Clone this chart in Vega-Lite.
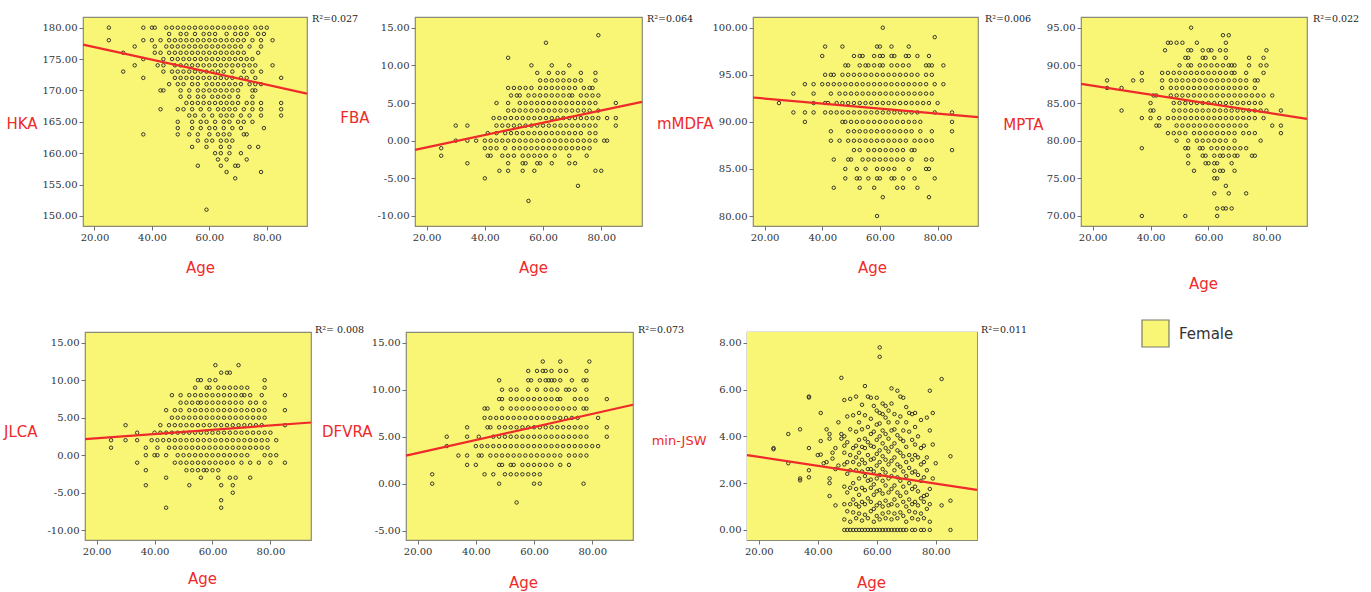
{
"$schema": "https://vega.github.io/schema/vega-lite/v6.json",
"autosize": {"type": "none"},
"padding": {"left": 83, "top": 17, "right": 1288, "bottom": 575},
"background": "white",
"spacing": 26,
"resolve": {"scale": {"fill": "independent"}, "legend": {"fill": "independent"}},
"datasets": {
"d1": [{"a":25,"v":180},{"a":37,"v":180},{"a":40,"v":180},{"a":41,"v":180},{"a":45,"v":180},{"a":47,"v":180},{"a":49,"v":180},{"a":51,"v":180},{"a":53,"v":180},{"a":55,"v":180},{"a":57,"v":180},{"a":59,"v":180},{"a":61,"v":180},{"a":63,"v":180},{"a":65,"v":180},{"a":67,"v":180},{"a":69,"v":180},{"a":71,"v":180},{"a":73,"v":180},{"a":76,"v":180},{"a":78,"v":180},{"a":80,"v":180},
{"a":46,"v":179},{"a":50,"v":179},{"a":52,"v":179},{"a":55,"v":179},{"a":58,"v":179},{"a":60,"v":179},{"a":62,"v":179},{"a":66,"v":179},{"a":69,"v":179},{"a":71,"v":179},{"a":73,"v":179},{"a":77,"v":179},{"a":79,"v":179},
{"a":25,"v":178},{"a":37,"v":178},{"a":40,"v":178},{"a":43,"v":178},{"a":46,"v":178},{"a":48,"v":178},{"a":50,"v":178},{"a":52,"v":178},{"a":54,"v":178},{"a":56,"v":178},{"a":58,"v":178},{"a":60,"v":178},{"a":62,"v":178},{"a":64,"v":178},{"a":66,"v":178},{"a":68,"v":178},{"a":70,"v":178},{"a":72,"v":178},{"a":75,"v":178},{"a":78,"v":178},{"a":82,"v":178},
{"a":34,"v":177},{"a":41,"v":177},{"a":45,"v":177},{"a":47,"v":177},{"a":49,"v":177},{"a":51,"v":177},{"a":53,"v":177},{"a":55,"v":177},{"a":57,"v":177},{"a":59,"v":177},{"a":61,"v":177},{"a":63,"v":177},{"a":65,"v":177},{"a":67,"v":177},{"a":69,"v":177},{"a":71,"v":177},{"a":74,"v":177},{"a":78,"v":177},
{"a":30,"v":176},{"a":41,"v":176},{"a":43,"v":176},{"a":46,"v":176},{"a":48,"v":176},{"a":50,"v":176},{"a":52,"v":176},{"a":54,"v":176},{"a":56,"v":176},{"a":58,"v":176},{"a":60,"v":176},{"a":62,"v":176},{"a":64,"v":176},{"a":66,"v":176},{"a":68,"v":176},{"a":70,"v":176},{"a":72,"v":176},{"a":77,"v":176},
{"a":37,"v":175},{"a":44,"v":175},{"a":47,"v":175},{"a":49,"v":175},{"a":51,"v":175},{"a":53,"v":175},{"a":55,"v":175},{"a":57,"v":175},{"a":59,"v":175},{"a":61,"v":175},{"a":63,"v":175},{"a":65,"v":175},{"a":67,"v":175},{"a":69,"v":175},{"a":71,"v":175},{"a":73,"v":175},{"a":75,"v":175},
{"a":34,"v":174},{"a":42,"v":174},{"a":44,"v":174},{"a":48,"v":174},{"a":50,"v":174},{"a":52,"v":174},{"a":54,"v":174},{"a":56,"v":174},{"a":58,"v":174},{"a":60,"v":174},{"a":62,"v":174},{"a":64,"v":174},{"a":66,"v":174},{"a":68,"v":174},{"a":70,"v":174},{"a":72,"v":174},{"a":74,"v":174},{"a":76,"v":174},{"a":82,"v":174},
{"a":30,"v":173},{"a":44,"v":173},{"a":47,"v":173},{"a":49,"v":173},{"a":51,"v":173},{"a":53,"v":173},{"a":55,"v":173},{"a":57,"v":173},{"a":59,"v":173},{"a":61,"v":173},{"a":63,"v":173},{"a":65,"v":173},{"a":68,"v":173},{"a":72,"v":173},{"a":75,"v":173},{"a":78,"v":173},
{"a":37,"v":172},{"a":48,"v":172},{"a":50,"v":172},{"a":52,"v":172},{"a":54,"v":172},{"a":56,"v":172},{"a":58,"v":172},{"a":60,"v":172},{"a":62,"v":172},{"a":64,"v":172},{"a":66,"v":172},{"a":68,"v":172},{"a":71,"v":172},{"a":73,"v":172},{"a":76,"v":172},{"a":85,"v":172},
{"a":46,"v":171},{"a":49,"v":171},{"a":51,"v":171},{"a":54,"v":171},{"a":56,"v":171},{"a":59,"v":171},{"a":61,"v":171},{"a":63,"v":171},{"a":65,"v":171},{"a":67,"v":171},{"a":69,"v":171},{"a":71,"v":171},{"a":74,"v":171},{"a":76,"v":171},{"a":78,"v":171},
{"a":43,"v":170},{"a":44,"v":170},{"a":50,"v":170},{"a":53,"v":170},{"a":56,"v":170},{"a":58,"v":170},{"a":60,"v":170},{"a":62,"v":170},{"a":64,"v":170},{"a":66,"v":170},{"a":68,"v":170},{"a":70,"v":170},{"a":75,"v":170},{"a":76,"v":170},
{"a":50,"v":169},{"a":53,"v":169},{"a":56,"v":169},{"a":58,"v":169},{"a":61,"v":169},{"a":63,"v":169},{"a":65,"v":169},{"a":67,"v":169},{"a":70,"v":169},{"a":75,"v":169},
{"a":52,"v":168},{"a":54,"v":168},{"a":56,"v":168},{"a":58,"v":168},{"a":60,"v":168},{"a":62,"v":168},{"a":64,"v":168},{"a":66,"v":168},{"a":68,"v":168},{"a":70,"v":168},{"a":73,"v":168},{"a":75,"v":168},{"a":78,"v":168},{"a":85,"v":168},
{"a":43,"v":167},{"a":49,"v":167},{"a":51,"v":167},{"a":54,"v":167},{"a":57,"v":167},{"a":60,"v":167},{"a":63,"v":167},{"a":65,"v":167},{"a":67,"v":167},{"a":69,"v":167},{"a":72,"v":167},{"a":75,"v":167},{"a":78,"v":167},{"a":85,"v":167},
{"a":53,"v":166},{"a":55,"v":166},{"a":58,"v":166},{"a":61,"v":166},{"a":64,"v":166},{"a":66,"v":166},{"a":68,"v":166},{"a":71,"v":166},{"a":74,"v":166},{"a":78,"v":166},{"a":85,"v":166},
{"a":49,"v":165},{"a":54,"v":165},{"a":57,"v":165},{"a":59,"v":165},{"a":62,"v":165},{"a":65,"v":165},{"a":67,"v":165},{"a":70,"v":165},{"a":72,"v":165},{"a":75,"v":165},
{"a":49,"v":164},{"a":54,"v":164},{"a":57,"v":164},{"a":60,"v":164},{"a":62,"v":164},{"a":65,"v":164},{"a":68,"v":164},{"a":71,"v":164},{"a":79,"v":164},
{"a":37,"v":163},{"a":49,"v":163},{"a":53,"v":163},{"a":56,"v":163},{"a":60,"v":163},{"a":63,"v":163},{"a":65,"v":163},{"a":67,"v":163},{"a":72,"v":163},{"a":73,"v":163},
{"a":56,"v":162},{"a":59,"v":162},{"a":61,"v":162},{"a":64,"v":162},{"a":66,"v":162},{"a":68,"v":162},
{"a":54,"v":161},{"a":59,"v":161},{"a":64,"v":161},{"a":67,"v":161},{"a":74,"v":161},{"a":77,"v":161},
{"a":62,"v":160},{"a":64,"v":160},{"a":67,"v":160},{"a":71,"v":160},
{"a":63,"v":159},{"a":66,"v":159},{"a":73,"v":159},
{"a":56,"v":158},{"a":64,"v":158},{"a":69,"v":158},{"a":70,"v":158},
{"a":66,"v":157},{"a":78,"v":157},{"a":69,"v":156},{"a":59,"v":151}],
"r1": [{"a":16,"v":177.3},{"a":94,"v":169.5}],
"d2": [{"a":79,"v":14},{"a":61,"v":13},{"a":48,"v":11},
{"a":56,"v":10},{"a":63,"v":10},{"a":69,"v":10},
{"a":58,"v":9},{"a":62,"v":9},{"a":65,"v":9},{"a":67,"v":9},{"a":73,"v":9},{"a":78,"v":9},
{"a":59,"v":8},{"a":61,"v":8},{"a":63,"v":8},{"a":65,"v":8},{"a":67,"v":8},{"a":69,"v":8},{"a":71,"v":8},{"a":73,"v":8},{"a":78,"v":8},
{"a":48,"v":7},{"a":50,"v":7},{"a":52,"v":7},{"a":54,"v":7},{"a":56,"v":7},{"a":59,"v":7},{"a":61,"v":7},{"a":63,"v":7},{"a":65,"v":7},{"a":67,"v":7},{"a":69,"v":7},{"a":71,"v":7},{"a":74,"v":7},{"a":76,"v":7},{"a":77,"v":7},
{"a":49,"v":6},{"a":51,"v":6},{"a":52,"v":6},{"a":55,"v":6},{"a":57,"v":6},{"a":59,"v":6},{"a":61,"v":6},{"a":63,"v":6},{"a":65,"v":6},{"a":67,"v":6},{"a":69,"v":6},{"a":70,"v":6},{"a":73,"v":6},{"a":75,"v":6},{"a":77,"v":6},{"a":79,"v":6},
{"a":44,"v":5},{"a":48,"v":5},{"a":52,"v":5},{"a":54,"v":5},{"a":56,"v":5},{"a":58,"v":5},{"a":60,"v":5},{"a":62,"v":5},{"a":64,"v":5},{"a":66,"v":5},{"a":68,"v":5},{"a":70,"v":5},{"a":72,"v":5},{"a":74,"v":5},{"a":76,"v":5},{"a":78,"v":5},{"a":85,"v":5},
{"a":48,"v":4},{"a":50,"v":4},{"a":52,"v":4},{"a":54,"v":4},{"a":56,"v":4},{"a":58,"v":4},{"a":60,"v":4},{"a":62,"v":4},{"a":64,"v":4},{"a":66,"v":4},{"a":68,"v":4},{"a":70,"v":4},{"a":72,"v":4},{"a":74,"v":4},{"a":76,"v":4},{"a":79,"v":4},
{"a":43,"v":3},{"a":45,"v":3},{"a":47,"v":3},{"a":49,"v":3},{"a":51,"v":3},{"a":53,"v":3},{"a":55,"v":3},{"a":57,"v":3},{"a":59,"v":3},{"a":61,"v":3},{"a":63,"v":3},{"a":65,"v":3},{"a":67,"v":3},{"a":69,"v":3},{"a":71,"v":3},{"a":73,"v":3},{"a":75,"v":3},{"a":77,"v":3},{"a":79,"v":3},{"a":82,"v":3},{"a":85,"v":3},
{"a":30,"v":2},{"a":34,"v":2},{"a":44,"v":2},{"a":46,"v":2},{"a":48,"v":2},{"a":50,"v":2},{"a":52,"v":2},{"a":54,"v":2},{"a":56,"v":2},{"a":58,"v":2},{"a":60,"v":2},{"a":62,"v":2},{"a":64,"v":2},{"a":66,"v":2},{"a":68,"v":2},{"a":70,"v":2},{"a":72,"v":2},{"a":74,"v":2},{"a":76,"v":2},{"a":78,"v":2},{"a":85,"v":2},
{"a":41,"v":1},{"a":44,"v":1},{"a":47,"v":1},{"a":49,"v":1},{"a":51,"v":1},{"a":53,"v":1},{"a":55,"v":1},{"a":57,"v":1},{"a":59,"v":1},{"a":61,"v":1},{"a":63,"v":1},{"a":65,"v":1},{"a":67,"v":1},{"a":69,"v":1},{"a":71,"v":1},{"a":73,"v":1},{"a":76,"v":1},{"a":78,"v":1},
{"a":30,"v":0},{"a":34,"v":0},{"a":37,"v":0},{"a":40,"v":0},{"a":42,"v":0},{"a":44,"v":0},{"a":46,"v":0},{"a":48,"v":0},{"a":50,"v":0},{"a":52,"v":0},{"a":54,"v":0},{"a":56,"v":0},{"a":58,"v":0},{"a":60,"v":0},{"a":62,"v":0},{"a":64,"v":0},{"a":66,"v":0},{"a":68,"v":0},{"a":70,"v":0},{"a":72,"v":0},{"a":74,"v":0},{"a":76,"v":0},{"a":78,"v":0},{"a":81,"v":0},{"a":82,"v":0},
{"a":25,"v":-1},{"a":40,"v":-1},{"a":42,"v":-1},{"a":44,"v":-1},{"a":47,"v":-1},{"a":50,"v":-1},{"a":52,"v":-1},{"a":54,"v":-1},{"a":56,"v":-1},{"a":58,"v":-1},{"a":60,"v":-1},{"a":62,"v":-1},{"a":64,"v":-1},{"a":66,"v":-1},{"a":68,"v":-1},{"a":70,"v":-1},{"a":72,"v":-1},{"a":74,"v":-1},{"a":76,"v":-1},
{"a":25,"v":-2},{"a":41,"v":-2},{"a":42,"v":-2},{"a":46,"v":-2},{"a":48,"v":-2},{"a":50,"v":-2},{"a":53,"v":-2},{"a":55,"v":-2},{"a":57,"v":-2},{"a":59,"v":-2},{"a":61,"v":-2},{"a":64,"v":-2},{"a":69,"v":-2},{"a":75,"v":-2},
{"a":34,"v":-3},{"a":48,"v":-3},{"a":53,"v":-3},{"a":54,"v":-3},{"a":58,"v":-3},{"a":59,"v":-3},{"a":63,"v":-3},{"a":69,"v":-3},{"a":71,"v":-3},
{"a":45,"v":-4},{"a":48,"v":-4},{"a":53,"v":-4},{"a":57,"v":-4},{"a":78,"v":-4},{"a":80,"v":-4},
{"a":40,"v":-5},{"a":72,"v":-6},{"a":55,"v":-8}],
"r2": [{"a":16,"v":-1.22},{"a":94,"v":5.16}],
"d3": [{"a":61,"v":100},{"a":79,"v":99},
{"a":41,"v":98},{"a":47,"v":98},{"a":59,"v":98},{"a":60,"v":98},{"a":64,"v":98},{"a":70,"v":98},
{"a":40,"v":97},{"a":51,"v":97},{"a":53,"v":97},{"a":54,"v":97},{"a":58,"v":97},{"a":60,"v":97},{"a":61,"v":97},{"a":64,"v":97},{"a":65,"v":97},{"a":69,"v":97},{"a":70,"v":97},{"a":73,"v":97},{"a":77,"v":97},
{"a":48,"v":96},{"a":49,"v":96},{"a":53,"v":96},{"a":55,"v":96},{"a":56,"v":96},{"a":58,"v":96},{"a":60,"v":96},{"a":61,"v":96},{"a":64,"v":96},{"a":66,"v":96},{"a":68,"v":96},{"a":70,"v":96},{"a":76,"v":96},{"a":77,"v":96},{"a":78,"v":96},{"a":82,"v":96},
{"a":41,"v":95},{"a":43,"v":95},{"a":44,"v":95},{"a":47,"v":95},{"a":49,"v":95},{"a":51,"v":95},{"a":53,"v":95},{"a":55,"v":95},{"a":57,"v":95},{"a":59,"v":95},{"a":61,"v":95},{"a":63,"v":95},{"a":65,"v":95},{"a":67,"v":95},{"a":69,"v":95},{"a":71,"v":95},{"a":73,"v":95},{"a":76,"v":95},{"a":78,"v":95},
{"a":34,"v":94},{"a":37,"v":94},{"a":40,"v":94},{"a":42,"v":94},{"a":44,"v":94},{"a":46,"v":94},{"a":48,"v":94},{"a":50,"v":94},{"a":52,"v":94},{"a":54,"v":94},{"a":56,"v":94},{"a":58,"v":94},{"a":60,"v":94},{"a":62,"v":94},{"a":64,"v":94},{"a":66,"v":94},{"a":68,"v":94},{"a":70,"v":94},{"a":72,"v":94},{"a":74,"v":94},{"a":76,"v":94},{"a":79,"v":94},{"a":82,"v":94},
{"a":30,"v":93},{"a":37,"v":93},{"a":43,"v":93},{"a":46,"v":93},{"a":48,"v":93},{"a":50,"v":93},{"a":52,"v":93},{"a":54,"v":93},{"a":56,"v":93},{"a":58,"v":93},{"a":60,"v":93},{"a":62,"v":93},{"a":64,"v":93},{"a":66,"v":93},{"a":68,"v":93},{"a":70,"v":93},{"a":72,"v":93},{"a":74,"v":93},{"a":76,"v":93},{"a":78,"v":93},
{"a":25,"v":92},{"a":37,"v":92},{"a":41,"v":92},{"a":42,"v":92},{"a":45,"v":92},{"a":47,"v":92},{"a":49,"v":92},{"a":51,"v":92},{"a":53,"v":92},{"a":55,"v":92},{"a":57,"v":92},{"a":59,"v":92},{"a":61,"v":92},{"a":63,"v":92},{"a":65,"v":92},{"a":67,"v":92},{"a":69,"v":92},{"a":71,"v":92},{"a":73,"v":92},{"a":75,"v":92},{"a":77,"v":92},{"a":80,"v":92},
{"a":30,"v":91},{"a":34,"v":91},{"a":37,"v":91},{"a":41,"v":91},{"a":43,"v":91},{"a":45,"v":91},{"a":47,"v":91},{"a":49,"v":91},{"a":51,"v":91},{"a":53,"v":91},{"a":55,"v":91},{"a":57,"v":91},{"a":59,"v":91},{"a":61,"v":91},{"a":63,"v":91},{"a":65,"v":91},{"a":67,"v":91},{"a":69,"v":91},{"a":71,"v":91},{"a":73,"v":91},{"a":79,"v":91},{"a":85,"v":91},
{"a":34,"v":90},{"a":47,"v":90},{"a":48,"v":90},{"a":50,"v":90},{"a":52,"v":90},{"a":54,"v":90},{"a":56,"v":90},{"a":58,"v":90},{"a":60,"v":90},{"a":62,"v":90},{"a":64,"v":90},{"a":66,"v":90},{"a":68,"v":90},{"a":70,"v":90},{"a":72,"v":90},{"a":74,"v":90},{"a":85,"v":90},
{"a":43,"v":89},{"a":49,"v":89},{"a":51,"v":89},{"a":53,"v":89},{"a":55,"v":89},{"a":57,"v":89},{"a":59,"v":89},{"a":61,"v":89},{"a":63,"v":89},{"a":65,"v":89},{"a":67,"v":89},{"a":69,"v":89},{"a":71,"v":89},{"a":74,"v":89},{"a":78,"v":89},{"a":85,"v":89},
{"a":43,"v":88},{"a":46,"v":88},{"a":49,"v":88},{"a":51,"v":88},{"a":53,"v":88},{"a":55,"v":88},{"a":57,"v":88},{"a":59,"v":88},{"a":61,"v":88},{"a":63,"v":88},{"a":65,"v":88},{"a":67,"v":88},{"a":69,"v":88},{"a":72,"v":88},{"a":74,"v":88},{"a":76,"v":88},{"a":78,"v":88},
{"a":51,"v":87},{"a":53,"v":87},{"a":56,"v":87},{"a":58,"v":87},{"a":60,"v":87},{"a":62,"v":87},{"a":64,"v":87},{"a":66,"v":87},{"a":68,"v":87},{"a":71,"v":87},{"a":72,"v":87},{"a":85,"v":87},
{"a":44,"v":86},{"a":49,"v":86},{"a":50,"v":86},{"a":54,"v":86},{"a":56,"v":86},{"a":58,"v":86},{"a":60,"v":86},{"a":62,"v":86},{"a":64,"v":86},{"a":66,"v":86},{"a":68,"v":86},{"a":71,"v":86},{"a":76,"v":86},{"a":78,"v":86},
{"a":48,"v":85},{"a":52,"v":85},{"a":55,"v":85},{"a":59,"v":85},{"a":61,"v":85},{"a":63,"v":85},{"a":65,"v":85},{"a":70,"v":85},{"a":76,"v":85},{"a":77,"v":85},
{"a":48,"v":84},{"a":52,"v":84},{"a":53,"v":84},{"a":56,"v":84},{"a":59,"v":84},{"a":60,"v":84},{"a":64,"v":84},{"a":65,"v":84},{"a":68,"v":84},{"a":72,"v":84},{"a":79,"v":84},
{"a":44,"v":83},{"a":53,"v":83},{"a":58,"v":83},{"a":66,"v":83},{"a":68,"v":83},{"a":73,"v":83},
{"a":61,"v":82},{"a":77,"v":82},{"a":59,"v":80}],
"r3": [{"a":16,"v":92.59},{"a":94,"v":90.5}],
"d4": [{"a":54,"v":95},{"a":65,"v":94},{"a":67,"v":94},
{"a":46,"v":93},{"a":47,"v":93},{"a":49,"v":93},{"a":51,"v":93},{"a":56,"v":93},{"a":66,"v":93},
{"a":45,"v":92},{"a":53,"v":92},{"a":54,"v":92},{"a":58,"v":92},{"a":60,"v":92},{"a":61,"v":92},{"a":64,"v":92},{"a":66,"v":92},{"a":80,"v":92},
{"a":52,"v":91},{"a":53,"v":91},{"a":58,"v":91},{"a":59,"v":91},{"a":62,"v":91},{"a":66,"v":91},{"a":74,"v":91},{"a":79,"v":91},
{"a":50,"v":90},{"a":53,"v":90},{"a":54,"v":90},{"a":57,"v":90},{"a":59,"v":90},{"a":61,"v":90},{"a":63,"v":90},{"a":65,"v":90},{"a":67,"v":90},{"a":68,"v":90},{"a":69,"v":90},{"a":74,"v":90},{"a":78,"v":90},{"a":80,"v":90},
{"a":37,"v":89},{"a":44,"v":89},{"a":46,"v":89},{"a":48,"v":89},{"a":50,"v":89},{"a":52,"v":89},{"a":54,"v":89},{"a":56,"v":89},{"a":58,"v":89},{"a":60,"v":89},{"a":62,"v":89},{"a":64,"v":89},{"a":66,"v":89},{"a":68,"v":89},{"a":69,"v":89},{"a":73,"v":89},{"a":79,"v":89},
{"a":25,"v":88},{"a":34,"v":88},{"a":37,"v":88},{"a":44,"v":88},{"a":47,"v":88},{"a":49,"v":88},{"a":51,"v":88},{"a":53,"v":88},{"a":55,"v":88},{"a":57,"v":88},{"a":59,"v":88},{"a":61,"v":88},{"a":63,"v":88},{"a":65,"v":88},{"a":67,"v":88},{"a":69,"v":88},{"a":71,"v":88},{"a":73,"v":88},{"a":76,"v":88},{"a":77,"v":88},
{"a":25,"v":87},{"a":30,"v":87},{"a":44,"v":87},{"a":47,"v":87},{"a":49,"v":87},{"a":51,"v":87},{"a":53,"v":87},{"a":55,"v":87},{"a":57,"v":87},{"a":59,"v":87},{"a":61,"v":87},{"a":63,"v":87},{"a":65,"v":87},{"a":67,"v":87},{"a":69,"v":87},{"a":71,"v":87},{"a":73,"v":87},{"a":76,"v":87},
{"a":41,"v":86},{"a":42,"v":86},{"a":47,"v":86},{"a":49,"v":86},{"a":51,"v":86},{"a":53,"v":86},{"a":55,"v":86},{"a":57,"v":86},{"a":59,"v":86},{"a":61,"v":86},{"a":63,"v":86},{"a":65,"v":86},{"a":67,"v":86},{"a":69,"v":86},{"a":71,"v":86},{"a":73,"v":86},{"a":75,"v":86},{"a":77,"v":86},{"a":79,"v":86},{"a":82,"v":86},
{"a":40,"v":85},{"a":48,"v":85},{"a":50,"v":85},{"a":52,"v":85},{"a":54,"v":85},{"a":56,"v":85},{"a":58,"v":85},{"a":60,"v":85},{"a":62,"v":85},{"a":64,"v":85},{"a":66,"v":85},{"a":68,"v":85},{"a":70,"v":85},{"a":72,"v":85},{"a":74,"v":85},{"a":76,"v":85},{"a":78,"v":85},
{"a":30,"v":84},{"a":40,"v":84},{"a":41,"v":84},{"a":48,"v":84},{"a":50,"v":84},{"a":52,"v":84},{"a":54,"v":84},{"a":56,"v":84},{"a":58,"v":84},{"a":60,"v":84},{"a":62,"v":84},{"a":64,"v":84},{"a":66,"v":84},{"a":68,"v":84},{"a":70,"v":84},{"a":72,"v":84},{"a":74,"v":84},{"a":76,"v":84},{"a":78,"v":84},{"a":80,"v":84},{"a":85,"v":84},
{"a":37,"v":83},{"a":40,"v":83},{"a":43,"v":83},{"a":46,"v":83},{"a":48,"v":83},{"a":50,"v":83},{"a":52,"v":83},{"a":54,"v":83},{"a":56,"v":83},{"a":58,"v":83},{"a":60,"v":83},{"a":62,"v":83},{"a":64,"v":83},{"a":66,"v":83},{"a":68,"v":83},{"a":70,"v":83},{"a":72,"v":83},{"a":74,"v":83},{"a":76,"v":83},{"a":79,"v":83},
{"a":42,"v":82},{"a":43,"v":82},{"a":49,"v":82},{"a":51,"v":82},{"a":53,"v":82},{"a":55,"v":82},{"a":57,"v":82},{"a":59,"v":82},{"a":61,"v":82},{"a":63,"v":82},{"a":65,"v":82},{"a":67,"v":82},{"a":69,"v":82},{"a":71,"v":82},{"a":73,"v":82},{"a":82,"v":82},{"a":85,"v":82},
{"a":46,"v":81},{"a":48,"v":81},{"a":50,"v":81},{"a":52,"v":81},{"a":55,"v":81},{"a":57,"v":81},{"a":59,"v":81},{"a":61,"v":81},{"a":63,"v":81},{"a":65,"v":81},{"a":67,"v":81},{"a":69,"v":81},{"a":72,"v":81},{"a":74,"v":81},{"a":76,"v":81},{"a":85,"v":81},
{"a":49,"v":80},{"a":53,"v":80},{"a":56,"v":80},{"a":58,"v":80},{"a":60,"v":80},{"a":62,"v":80},{"a":64,"v":80},{"a":66,"v":80},{"a":69,"v":80},{"a":78,"v":80},
{"a":37,"v":79},{"a":52,"v":79},{"a":53,"v":79},{"a":57,"v":79},{"a":58,"v":79},{"a":61,"v":79},{"a":63,"v":79},{"a":65,"v":79},{"a":67,"v":79},{"a":69,"v":79},{"a":71,"v":79},{"a":73,"v":79},
{"a":53,"v":78},{"a":58,"v":78},{"a":59,"v":78},{"a":62,"v":78},{"a":64,"v":78},{"a":65,"v":78},{"a":67,"v":78},{"a":69,"v":78},{"a":70,"v":78},{"a":75,"v":78},{"a":76,"v":78},
{"a":53,"v":77},{"a":59,"v":77},{"a":60,"v":77},{"a":62,"v":77},{"a":63,"v":77},{"a":68,"v":77},
{"a":55,"v":76},{"a":62,"v":76},{"a":64,"v":76},{"a":65,"v":76},{"a":69,"v":76},
{"a":62,"v":75},{"a":63,"v":75},{"a":66,"v":74},{"a":62,"v":73},{"a":67,"v":73},{"a":73,"v":73},
{"a":63,"v":71},{"a":65,"v":71},{"a":66,"v":71},{"a":68,"v":71},{"a":37,"v":70},{"a":52,"v":70},{"a":63,"v":70}],
"r4": [{"a":16,"v":87.55},{"a":94,"v":82.9}],
"d5": [{"a":61,"v":12},{"a":69,"v":12},{"a":63,"v":11},{"a":65,"v":11},{"a":66,"v":11},
{"a":55,"v":10},{"a":56,"v":10},{"a":59,"v":10},{"a":61,"v":10},{"a":78,"v":10},
{"a":54,"v":9},{"a":58,"v":9},{"a":59,"v":9},{"a":62,"v":9},{"a":64,"v":9},{"a":66,"v":9},{"a":68,"v":9},{"a":70,"v":9},{"a":72,"v":9},{"a":78,"v":9},
{"a":46,"v":8},{"a":49,"v":8},{"a":52,"v":8},{"a":54,"v":8},{"a":56,"v":8},{"a":58,"v":8},{"a":60,"v":8},{"a":62,"v":8},{"a":64,"v":8},{"a":66,"v":8},{"a":68,"v":8},{"a":70,"v":8},{"a":71,"v":8},{"a":73,"v":8},{"a":77,"v":8},{"a":85,"v":8},
{"a":49,"v":7},{"a":51,"v":7},{"a":53,"v":7},{"a":55,"v":7},{"a":56,"v":7},{"a":58,"v":7},{"a":60,"v":7},{"a":62,"v":7},{"a":64,"v":7},{"a":66,"v":7},{"a":68,"v":7},{"a":70,"v":7},{"a":73,"v":7},{"a":75,"v":7},{"a":78,"v":7},
{"a":44,"v":6},{"a":47,"v":6},{"a":49,"v":6},{"a":52,"v":6},{"a":54,"v":6},{"a":56,"v":6},{"a":58,"v":6},{"a":60,"v":6},{"a":62,"v":6},{"a":64,"v":6},{"a":66,"v":6},{"a":68,"v":6},{"a":70,"v":6},{"a":72,"v":6},{"a":74,"v":6},{"a":76,"v":6},{"a":78,"v":6},{"a":85,"v":6},
{"a":46,"v":5},{"a":48,"v":5},{"a":50,"v":5},{"a":52,"v":5},{"a":54,"v":5},{"a":56,"v":5},{"a":58,"v":5},{"a":60,"v":5},{"a":62,"v":5},{"a":64,"v":5},{"a":66,"v":5},{"a":68,"v":5},{"a":70,"v":5},{"a":72,"v":5},{"a":74,"v":5},{"a":76,"v":5},{"a":78,"v":5},
{"a":30,"v":4},{"a":42,"v":4},{"a":45,"v":4},{"a":47,"v":4},{"a":49,"v":4},{"a":51,"v":4},{"a":53,"v":4},{"a":55,"v":4},{"a":57,"v":4},{"a":59,"v":4},{"a":61,"v":4},{"a":63,"v":4},{"a":65,"v":4},{"a":67,"v":4},{"a":69,"v":4},{"a":71,"v":4},{"a":73,"v":4},{"a":75,"v":4},{"a":77,"v":4},{"a":85,"v":4},
{"a":34,"v":3},{"a":40,"v":3},{"a":42,"v":3},{"a":44,"v":3},{"a":46,"v":3},{"a":48,"v":3},{"a":50,"v":3},{"a":52,"v":3},{"a":54,"v":3},{"a":56,"v":3},{"a":58,"v":3},{"a":60,"v":3},{"a":62,"v":3},{"a":64,"v":3},{"a":66,"v":3},{"a":68,"v":3},{"a":70,"v":3},{"a":72,"v":3},{"a":74,"v":3},{"a":76,"v":3},{"a":78,"v":3},{"a":80,"v":3},
{"a":25,"v":2},{"a":30,"v":2},{"a":34,"v":2},{"a":39,"v":2},{"a":41,"v":2},{"a":43,"v":2},{"a":45,"v":2},{"a":47,"v":2},{"a":49,"v":2},{"a":51,"v":2},{"a":53,"v":2},{"a":55,"v":2},{"a":57,"v":2},{"a":59,"v":2},{"a":61,"v":2},{"a":63,"v":2},{"a":65,"v":2},{"a":67,"v":2},{"a":69,"v":2},{"a":71,"v":2},{"a":73,"v":2},{"a":75,"v":2},{"a":77,"v":2},{"a":79,"v":2},{"a":82,"v":2},
{"a":25,"v":1},{"a":37,"v":1},{"a":41,"v":1},{"a":45,"v":1},{"a":47,"v":1},{"a":49,"v":1},{"a":51,"v":1},{"a":53,"v":1},{"a":55,"v":1},{"a":57,"v":1},{"a":59,"v":1},{"a":61,"v":1},{"a":63,"v":1},{"a":65,"v":1},{"a":67,"v":1},{"a":69,"v":1},{"a":71,"v":1},{"a":73,"v":1},{"a":75,"v":1},{"a":77,"v":1},{"a":79,"v":1},
{"a":37,"v":0},{"a":40,"v":0},{"a":41,"v":0},{"a":44,"v":0},{"a":48,"v":0},{"a":50,"v":0},{"a":52,"v":0},{"a":54,"v":0},{"a":56,"v":0},{"a":58,"v":0},{"a":60,"v":0},{"a":62,"v":0},{"a":64,"v":0},{"a":66,"v":0},{"a":68,"v":0},{"a":70,"v":0},{"a":72,"v":0},{"a":78,"v":0},{"a":80,"v":0},{"a":82,"v":0},
{"a":34,"v":-1},{"a":47,"v":-1},{"a":49,"v":-1},{"a":51,"v":-1},{"a":53,"v":-1},{"a":55,"v":-1},{"a":57,"v":-1},{"a":59,"v":-1},{"a":61,"v":-1},{"a":63,"v":-1},{"a":65,"v":-1},{"a":67,"v":-1},{"a":70,"v":-1},{"a":73,"v":-1},{"a":76,"v":-1},{"a":80,"v":-1},{"a":85,"v":-1},
{"a":37,"v":-2},{"a":51,"v":-2},{"a":53,"v":-2},{"a":55,"v":-2},{"a":57,"v":-2},{"a":58,"v":-2},{"a":60,"v":-2},{"a":62,"v":-2},
{"a":44,"v":-3},{"a":56,"v":-3},{"a":62,"v":-3},{"a":66,"v":-3},{"a":68,"v":-3},{"a":73,"v":-3},
{"a":37,"v":-4},{"a":52,"v":-4},{"a":63,"v":-4},{"a":67,"v":-4},{"a":67,"v":-5},{"a":63,"v":-6},{"a":44,"v":-7},{"a":63,"v":-7}],
"r5": [{"a":16,"v":2.15},{"a":94,"v":4.36}],
"d6": [{"a":63,"v":13},{"a":69,"v":13},{"a":79,"v":13},
{"a":58,"v":12},{"a":61,"v":12},{"a":63,"v":12},{"a":64,"v":12},{"a":66,"v":12},{"a":69,"v":12},{"a":71,"v":12},{"a":78,"v":12},
{"a":48,"v":11},{"a":58,"v":11},{"a":59,"v":11},{"a":62,"v":11},{"a":64,"v":11},{"a":65,"v":11},{"a":66,"v":11},{"a":67,"v":11},{"a":69,"v":11},{"a":73,"v":11},{"a":77,"v":11},{"a":78,"v":11},
{"a":49,"v":10},{"a":52,"v":10},{"a":54,"v":10},{"a":58,"v":10},{"a":61,"v":10},{"a":64,"v":10},{"a":66,"v":10},{"a":68,"v":10},{"a":71,"v":10},{"a":72,"v":10},{"a":74,"v":10},{"a":78,"v":10},
{"a":48,"v":9},{"a":49,"v":9},{"a":52,"v":9},{"a":54,"v":9},{"a":56,"v":9},{"a":58,"v":9},{"a":60,"v":9},{"a":62,"v":9},{"a":64,"v":9},{"a":66,"v":9},{"a":68,"v":9},{"a":69,"v":9},{"a":74,"v":9},{"a":76,"v":9},{"a":78,"v":9},{"a":85,"v":9},
{"a":43,"v":8},{"a":44,"v":8},{"a":49,"v":8},{"a":52,"v":8},{"a":54,"v":8},{"a":56,"v":8},{"a":58,"v":8},{"a":60,"v":8},{"a":62,"v":8},{"a":64,"v":8},{"a":66,"v":8},{"a":68,"v":8},{"a":70,"v":8},{"a":72,"v":8},{"a":74,"v":8},{"a":77,"v":8},{"a":78,"v":8},
{"a":43,"v":7},{"a":45,"v":7},{"a":47,"v":7},{"a":49,"v":7},{"a":51,"v":7},{"a":53,"v":7},{"a":55,"v":7},{"a":57,"v":7},{"a":59,"v":7},{"a":61,"v":7},{"a":63,"v":7},{"a":65,"v":7},{"a":67,"v":7},{"a":69,"v":7},{"a":71,"v":7},{"a":73,"v":7},{"a":75,"v":7},{"a":82,"v":7},
{"a":37,"v":6},{"a":44,"v":6},{"a":45,"v":6},{"a":48,"v":6},{"a":50,"v":6},{"a":52,"v":6},{"a":54,"v":6},{"a":56,"v":6},{"a":58,"v":6},{"a":60,"v":6},{"a":62,"v":6},{"a":64,"v":6},{"a":66,"v":6},{"a":68,"v":6},{"a":70,"v":6},{"a":72,"v":6},{"a":74,"v":6},{"a":76,"v":6},{"a":78,"v":6},{"a":85,"v":6},
{"a":30,"v":5},{"a":37,"v":5},{"a":41,"v":5},{"a":46,"v":5},{"a":48,"v":5},{"a":50,"v":5},{"a":52,"v":5},{"a":54,"v":5},{"a":56,"v":5},{"a":58,"v":5},{"a":60,"v":5},{"a":62,"v":5},{"a":64,"v":5},{"a":66,"v":5},{"a":68,"v":5},{"a":70,"v":5},{"a":72,"v":5},{"a":74,"v":5},{"a":76,"v":5},{"a":78,"v":5},{"a":85,"v":5},
{"a":30,"v":4},{"a":40,"v":4},{"a":42,"v":4},{"a":44,"v":4},{"a":46,"v":4},{"a":48,"v":4},{"a":50,"v":4},{"a":52,"v":4},{"a":54,"v":4},{"a":56,"v":4},{"a":58,"v":4},{"a":60,"v":4},{"a":62,"v":4},{"a":64,"v":4},{"a":66,"v":4},{"a":68,"v":4},{"a":70,"v":4},{"a":72,"v":4},{"a":74,"v":4},{"a":76,"v":4},{"a":78,"v":4},{"a":80,"v":4},{"a":82,"v":4},
{"a":34,"v":3},{"a":37,"v":3},{"a":41,"v":3},{"a":42,"v":3},{"a":45,"v":3},{"a":47,"v":3},{"a":49,"v":3},{"a":51,"v":3},{"a":53,"v":3},{"a":55,"v":3},{"a":57,"v":3},{"a":59,"v":3},{"a":61,"v":3},{"a":63,"v":3},{"a":65,"v":3},{"a":67,"v":3},{"a":69,"v":3},{"a":72,"v":3},{"a":74,"v":3},{"a":76,"v":3},{"a":78,"v":3},
{"a":37,"v":2},{"a":40,"v":2},{"a":48,"v":2},{"a":49,"v":2},{"a":52,"v":2},{"a":53,"v":2},{"a":56,"v":2},{"a":58,"v":2},{"a":60,"v":2},{"a":62,"v":2},{"a":64,"v":2},{"a":66,"v":2},{"a":69,"v":2},{"a":72,"v":2},
{"a":25,"v":1},{"a":43,"v":1},{"a":46,"v":1},{"a":50,"v":1},{"a":52,"v":1},{"a":54,"v":1},{"a":56,"v":1},{"a":58,"v":1},{"a":60,"v":1},{"a":62,"v":1},
{"a":25,"v":0},{"a":48,"v":0},{"a":60,"v":0},{"a":62,"v":0},{"a":77,"v":0},{"a":54,"v":-2}],
"r6": [{"a":16,"v":2.98},{"a":94,"v":8.4}],
"d7": [{"a":25,"v":3.5},{"a":25,"v":3.45},{"a":30,"v":4.1},{"a":30,"v":2.85},{"a":34,"v":4.3},{"a":34,"v":2.2},{"a":34,"v":2.12},{"a":37,"v":5.7},{"a":37,"v":5.66},{"a":37,"v":3.5},{"a":37,"v":2.55},{"a":37,"v":2.25},{"a":40,"v":3.2},{"a":41,"v":5.0},{"a":41,"v":3.22},{"a":41,"v":3.8},{"a":42,"v":2.85},{"a":43,"v":4.3},{"a":43,"v":2.9},{"a":44,"v":4.1},{"a":44,"v":3.9},{"a":44,"v":1.45},{"a":44,"v":2.0},{"a":44,"v":2.2},{"a":45,"v":3.3},{"a":45,"v":3.05},{"a":46,"v":1.05},{"a":46,"v":2.6},{"a":46,"v":3.5},{"a":47,"v":4.6},{"a":47,"v":2.75},{"a":48,"v":6.5},{"a":48,"v":4.1},{"a":48,"v":3.9},{"a":82,"v":6.45},{"a":82,"v":1.05},{"a":85,"v":3.15},{"a":85,"v":1.25},{"a":85,"v":0},{"a":78,"v":5.95},{"a":79,"v":5.0},{"a":78,"v":4.25},{"a":79,"v":3.65},{"a":80,"v":2.85},{"a":79,"v":2.2},{"a":78,"v":1.75},{"a":78,"v":1.1},{"a":78,"v":0.35},{"a":77,"v":4.8},{"a":61,"v":7.8},{"a":61,"v":7.4},
{"a":49,"v":0},{"a":50,"v":0},{"a":51,"v":0},{"a":52,"v":0},{"a":53,"v":0},{"a":54,"v":0},{"a":55,"v":0},{"a":56,"v":0},{"a":57,"v":0},{"a":58,"v":0},{"a":59,"v":0},{"a":60,"v":0},{"a":61,"v":0},{"a":62,"v":0},{"a":63,"v":0},{"a":64,"v":0},{"a":65,"v":0},{"a":66,"v":0},{"a":67,"v":0},{"a":68,"v":0},{"a":69,"v":0},{"a":70,"v":0},{"a":72,"v":0},{"a":73,"v":0},{"a":75,"v":0},{"a":76,"v":0},{"a":78,"v":0},
{"a":49,"v":0.45},{"a":49,"v":1.1},{"a":49,"v":1.85},{"a":49,"v":2.8},{"a":49,"v":3.3},{"a":49,"v":3.6},{"a":49,"v":4.0},{"a":49,"v":5.55},
{"a":50,"v":0.8},{"a":50,"v":1.6},{"a":50,"v":2.4},{"a":50,"v":2.9},{"a":50,"v":3.75},{"a":50,"v":4.85},
{"a":51,"v":0.35},{"a":51,"v":1.1},{"a":51,"v":1.8},{"a":51,"v":2.55},{"a":51,"v":3.2},{"a":51,"v":4.3},{"a":51,"v":5.6},
{"a":52,"v":0.75},{"a":52,"v":1.3},{"a":52,"v":2.0},{"a":52,"v":2.9},{"a":52,"v":3.5},{"a":52,"v":4.9},
{"a":53,"v":0.5},{"a":53,"v":1.1},{"a":53,"v":1.75},{"a":53,"v":2.55},{"a":53,"v":3.1},{"a":53,"v":3.6},{"a":53,"v":4.2},{"a":53,"v":5.7},
{"a":54,"v":0.7},{"a":54,"v":1.0},{"a":54,"v":1.5},{"a":54,"v":2.2},{"a":54,"v":2.8},{"a":54,"v":3.3},{"a":54,"v":3.85},{"a":54,"v":4.6},{"a":54,"v":5.0},
{"a":55,"v":0.4},{"a":55,"v":1.2},{"a":55,"v":1.8},{"a":55,"v":2.5},{"a":55,"v":3.0},{"a":55,"v":3.55},{"a":55,"v":4.3},{"a":55,"v":5.35},
{"a":56,"v":0.65},{"a":56,"v":1.1},{"a":56,"v":1.7},{"a":56,"v":2.3},{"a":56,"v":2.85},{"a":56,"v":3.5},{"a":56,"v":3.9},{"a":56,"v":4.9},{"a":56,"v":6.15},
{"a":57,"v":0.5},{"a":57,"v":1.35},{"a":57,"v":2.1},{"a":57,"v":2.6},{"a":57,"v":3.2},{"a":57,"v":3.75},{"a":57,"v":4.4},{"a":57,"v":5.7},
{"a":58,"v":0.8},{"a":58,"v":1.2},{"a":58,"v":1.8},{"a":58,"v":2.15},{"a":58,"v":2.6},{"a":58,"v":3.0},{"a":58,"v":3.6},{"a":58,"v":4.1},{"a":58,"v":4.75},{"a":58,"v":5.65},
{"a":59,"v":0.35},{"a":59,"v":0.9},{"a":59,"v":1.5},{"a":59,"v":1.95},{"a":59,"v":2.5},{"a":59,"v":3.05},{"a":59,"v":3.55},{"a":59,"v":4.2},{"a":59,"v":5.3},
{"a":60,"v":0.6},{"a":60,"v":1.05},{"a":60,"v":1.65},{"a":60,"v":2.2},{"a":60,"v":2.75},{"a":60,"v":3.25},{"a":60,"v":3.85},{"a":60,"v":4.5},{"a":60,"v":5.1},{"a":60,"v":5.65},
{"a":61,"v":0.45},{"a":61,"v":1.15},{"a":61,"v":1.7},{"a":61,"v":2.35},{"a":61,"v":2.9},{"a":61,"v":3.4},{"a":61,"v":4.0},{"a":61,"v":4.55},{"a":61,"v":5.0},
{"a":62,"v":0.7},{"a":62,"v":1.0},{"a":62,"v":1.55},{"a":62,"v":2.1},{"a":62,"v":2.6},{"a":62,"v":3.15},{"a":62,"v":3.7},{"a":62,"v":4.25},{"a":62,"v":4.95},{"a":62,"v":5.4},
{"a":63,"v":0.5},{"a":63,"v":1.25},{"a":63,"v":1.9},{"a":63,"v":2.45},{"a":63,"v":3.0},{"a":63,"v":3.5},{"a":63,"v":4.1},{"a":63,"v":4.8},{"a":63,"v":5.3},
{"a":64,"v":0.75},{"a":64,"v":1.05},{"a":64,"v":1.6},{"a":64,"v":2.2},{"a":64,"v":2.8},{"a":64,"v":3.35},{"a":64,"v":3.9},{"a":64,"v":4.6},{"a":64,"v":5.1},
{"a":65,"v":0.45},{"a":65,"v":1.1},{"a":65,"v":1.75},{"a":65,"v":2.3},{"a":65,"v":2.95},{"a":65,"v":3.55},{"a":65,"v":4.25},{"a":65,"v":5.4},{"a":65,"v":6.05},
{"a":66,"v":0.7},{"a":66,"v":1.3},{"a":66,"v":1.9},{"a":66,"v":2.55},{"a":66,"v":3.1},{"a":66,"v":3.7},{"a":66,"v":4.3},{"a":66,"v":4.95},
{"a":67,"v":0.5},{"a":67,"v":1.05},{"a":67,"v":1.6},{"a":67,"v":2.25},{"a":67,"v":2.8},{"a":67,"v":3.4},{"a":67,"v":4.05},{"a":67,"v":4.6},{"a":67,"v":5.95},
{"a":68,"v":0.75},{"a":68,"v":1.45},{"a":68,"v":2.1},{"a":68,"v":2.7},{"a":68,"v":3.3},{"a":68,"v":3.9},{"a":68,"v":4.85},{"a":68,"v":5.7},
{"a":69,"v":0.6},{"a":69,"v":1.2},{"a":69,"v":1.85},{"a":69,"v":2.5},{"a":69,"v":3.15},{"a":69,"v":3.8},{"a":69,"v":4.25},{"a":69,"v":5.65},
{"a":70,"v":0.35},{"a":70,"v":1.0},{"a":70,"v":1.6},{"a":70,"v":2.3},{"a":70,"v":2.9},{"a":70,"v":3.55},{"a":70,"v":4.6},{"a":70,"v":5.25},
{"a":71,"v":0.8},{"a":71,"v":1.3},{"a":71,"v":2.0},{"a":71,"v":2.65},{"a":71,"v":3.2},{"a":71,"v":4.2},{"a":71,"v":5.0},
{"a":72,"v":0.5},{"a":72,"v":1.1},{"a":72,"v":1.75},{"a":72,"v":2.45},{"a":72,"v":3.0},{"a":72,"v":3.85},{"a":72,"v":4.95},
{"a":73,"v":0.75},{"a":73,"v":1.2},{"a":73,"v":1.85},{"a":73,"v":2.5},{"a":73,"v":3.2},{"a":73,"v":3.65},{"a":73,"v":4.4},{"a":73,"v":5.0},
{"a":74,"v":0.45},{"a":74,"v":1.05},{"a":74,"v":1.65},{"a":74,"v":2.35},{"a":74,"v":3.1},{"a":74,"v":4.0},
{"a":75,"v":0.7},{"a":75,"v":1.35},{"a":75,"v":2.1},{"a":75,"v":2.8},{"a":75,"v":3.5},{"a":75,"v":4.7},
{"a":76,"v":0.5},{"a":76,"v":1.2},{"a":76,"v":1.45},{"a":76,"v":2.25},{"a":76,"v":2.9},{"a":76,"v":3.6},
{"a":77,"v":0.9},{"a":77,"v":1.5},{"a":77,"v":2.55},{"a":77,"v":3.1}],
"r7": [{"a":16,"v":3.2},{"a":94,"v":1.71}]
},
"vconcat": [
{"hconcat": [
{"width":224,"height":209,"title":{"text":"R²=0.027","offset":-6,"dx":229},
 "encoding":{"x":{"field":"a","type":"quantitative","scale":{"domain":[16,94],"nice":false,"zero":false},"axis":{"values":[20,40,60,80],"format":".2f","title":"Age","titleX":117,"titleY":41}},
  "y":{"field":"v","type":"quantitative","scale":{"domain":[148.4,181.7],"nice":false,"zero":false},"axis":{"values":[150,155,160,165,170,175,180],"format":".2f","title":"HKA","titleX":-46,"titleY":106}}},
 "layer":[{"data":{"name":"d1"},"mark":"point"},{"data":{"name":"r1"},"mark":"line"}]},
{"width":108,"height":209,"view":{"fill":null,"stroke":null},"data":{"values":[]},"mark":"point","encoding":{}},
{"width":227,"height":209,"title":{"text":"R²=0.064","offset":-6,"dx":232},
 "encoding":{"x":{"field":"a","type":"quantitative","scale":{"domain":[16,94],"nice":false,"zero":false},"axis":{"values":[20,40,60,80],"format":".2f","title":"Age","titleX":118,"titleY":41}},
  "y":{"field":"v","type":"quantitative","scale":{"domain":[-11.33,16.42],"nice":false,"zero":false},"axis":{"values":[-10,-5,0,5,10,15],"format":".2f","labelExpr":"replace(datum.label, '−', '-')","title":"FBA","titleX":-46,"titleY":100}}},
 "layer":[{"data":{"name":"d2"},"mark":"point"},{"data":{"name":"r2"},"mark":"line"}]},
{"width":111,"height":209,"view":{"fill":null,"stroke":null},"data":{"values":[]},"mark":"point","encoding":{}},
{"width":225,"height":209,"title":{"text":"R²=0.006","offset":-6,"dx":232},
 "encoding":{"x":{"field":"a","type":"quantitative","scale":{"domain":[16,94],"nice":false,"zero":false},"axis":{"values":[20,40,60,80],"format":".2f","title":"Age","titleX":119,"titleY":41}},
  "y":{"field":"v","type":"quantitative","scale":{"domain":[78.94,101.14],"nice":false,"zero":false},"axis":{"values":[80,85,90,95,100],"format":".2f","title":"mMDFA","titleX":-40,"titleY":106}}},
 "layer":[{"data":{"name":"d3"},"mark":"point"},{"data":{"name":"r3"},"mark":"line"}]},
{"width":103,"height":209,"view":{"fill":null,"stroke":null},"data":{"values":[]},"mark":"point","encoding":{}},
{"width":226,"height":209,"title":{"text":"R²=0.022","offset":-6,"dx":232},
 "encoding":{"x":{"field":"a","type":"quantitative","scale":{"domain":[16,94],"nice":false,"zero":false},"axis":{"values":[20,40,60,80],"format":".2f","title":"Age","titleX":122,"titleY":57}},
  "y":{"field":"v","type":"quantitative","scale":{"domain":[68.67,96.42],"nice":false,"zero":false},"axis":{"values":[70,75,80,85,90,95],"format":".2f","title":"MPTA","titleX":-38,"titleY":107}}},
 "layer":[{"data":{"name":"d4"},"mark":"point"},{"data":{"name":"r4"},"mark":"line"}]}
], "bounds": "flush", "spacing": 0},
{"hconcat": [
{"width":2,"height":208,"view":{"fill":null,"stroke":null},"data":{"values":[]},"mark":"point","encoding":{}},
{"width":226,"height":208,"title":{"text":"R²= 0.008","offset":-2,"dx":230},
 "encoding":{"x":{"field":"a","type":"quantitative","scale":{"domain":[16,94],"nice":false,"zero":false},"axis":{"values":[20,40,60,80],"format":".2f","title":"Age","titleX":117,"titleY":38}},
  "y":{"field":"v","type":"quantitative","scale":{"domain":[-11.3,16.42],"nice":false,"zero":false},"axis":{"values":[-10,-5,0,5,10,15],"format":".2f","labelExpr":"replace(datum.label, '−', '-')","title":"JLCA","titleX":-48,"titleY":99}}},
 "layer":[{"data":{"name":"d5"},"mark":"point"},{"data":{"name":"r5"},"mark":"line"}]},
{"width":95,"height":208,"view":{"fill":null,"stroke":null},"data":{"values":[]},"mark":"point","encoding":{}},
{"width":227,"height":208,"title":{"text":"R²=0.073","offset":-2,"dx":232},
 "encoding":{"x":{"field":"a","type":"quantitative","scale":{"domain":[16,94],"nice":false,"zero":false},"axis":{"values":[20,40,60,80],"format":".2f","title":"Age","titleX":117,"titleY":42}},
  "y":{"field":"v","type":"quantitative","scale":{"domain":[-5.99,16.14],"nice":false,"zero":false},"axis":{"values":[-5,0,5,10,15],"format":".2f","labelExpr":"replace(datum.label, '−', '-')","title":"DFVRA","titleX":-34,"titleY":99}}},
 "layer":[{"data":{"name":"d6"},"mark":"point"},{"data":{"name":"r6"},"mark":"line"}]},
{"width":114,"height":208,"view":{"fill":null,"stroke":null},"data":{"values":[]},"mark":"point","encoding":{}},
{"width":230,"height":208,"title":{"text":"R²=0.011","offset":-15,"dx":234},
 "layer":[
  {"data":{"values":[{"g":"Female"}]},"mark":{"type":"rect"},
   "encoding":{"fill":{"field":"g","type":"nominal","scale":{"range":["#F9F676"]},
     "legend":{"title":null,"orient":"none","legendX":394,"legendY":-13,"symbolType":"square","symbolSize":729,"symbolStrokeColor":"#7a7a6a","symbolStrokeWidth":1.2,"labelFont":"DejaVu Sans","labelFontSize":15,"labelColor":"#333","labelOffset":9,"padding":0}}}},
  {"data":{"name":"d7"},"mark":"point",
   "encoding":{"x":{"field":"a","type":"quantitative","scale":{"domain":[16,94],"nice":false,"zero":false},"axis":{"values":[20,40,60,80],"format":".2f","title":"Age","titleX":124,"titleY":42}},
    "y":{"field":"v","type":"quantitative","scale":{"domain":[-0.43,8.46],"nice":false,"zero":false},"axis":{"values":[0,2,4,6,8],"format":".2f","title":"min-JSW","titleX":-41,"titleY":108,"titleFontSize":13}}}},
  {"data":{"name":"r7"},"mark":"line",
   "encoding":{"x":{"field":"a","type":"quantitative","scale":{"domain":[16,94],"nice":false,"zero":false},"axis":{"values":[20,40,60,80],"format":".2f","title":"Age","titleX":124,"titleY":42}},
    "y":{"field":"v","type":"quantitative","scale":{"domain":[-0.43,8.46],"nice":false,"zero":false},"axis":{"values":[0,2,4,6,8],"format":".2f","title":"min-JSW","titleX":-41,"titleY":108,"titleFontSize":13}}}}
 ]}
], "bounds": "flush", "spacing": 0, "resolve": {"scale": {"fill": "independent"}, "legend": {"fill": "independent"}}}
],
"config": {
 "view": {"fill": "#F9F676", "stroke": "#8a8a7a", "strokeWidth": 1.2},
 "axis": {"domain": false, "grid": false, "tickColor": "#707070", "tickSize": 4, "tickWidth": 1, "labelFont": "DejaVu Serif", "labelFontSize": 10, "labelColor": "#333", "labelPadding": 2, "labelFlush": false, "labelOverlap": false, "titleFont": "DejaVu Sans", "titleFontSize": 15, "titleFontWeight": "normal", "titleColor": "#EE2A2A", "titleBaseline": "middle"},
 "axisX": {"titleAlign": "center", "titleAngle": 0},
 "axisY": {"titleAlign": "right", "titleAngle": 0},
 "point": {"filled": false, "shape": "circle", "size": 12, "strokeWidth": 0.9, "color": "#222", "opacity": 1},
 "line": {"color": "#EE2A2A", "strokeWidth": 2.2},
 "title": {"anchor": "start", "baseline": "middle", "font": "DejaVu Serif", "fontSize": 9.5, "fontWeight": "normal", "color": "#222", "frame": "group"}
}
}
